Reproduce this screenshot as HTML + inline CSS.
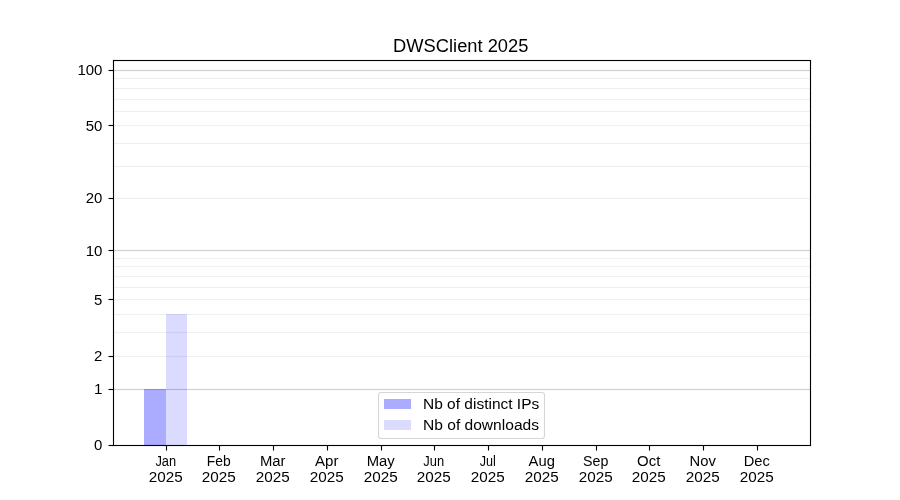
<!DOCTYPE html>
<html><head><meta charset="utf-8"><title>DWSClient 2025</title>
<style>html,body{margin:0;padding:0;background:#fff;width:900px;height:500px;overflow:hidden}svg{display:block;will-change:transform}text{font-family:"Liberation Sans",sans-serif;fill:#000}</style></head><body>
<svg width="900" height="500" viewBox="0 0 900 500">
<rect x="0" y="0" width="900" height="500" fill="#fff"/>
<g shape-rendering="crispEdges">
<rect x="113" y="77" width="697" height="3" fill="#fefefe"/><rect x="113" y="78" width="697" height="1" fill="#efefef"/>
<rect x="113" y="87" width="697" height="3" fill="#fefefe"/><rect x="113" y="88" width="697" height="1" fill="#efefef"/>
<rect x="113" y="98" width="697" height="3" fill="#fefefe"/><rect x="113" y="99" width="697" height="1" fill="#efefef"/>
<rect x="113" y="110" width="697" height="3" fill="#fefefe"/><rect x="113" y="111" width="697" height="1" fill="#efefef"/>
<rect x="113" y="124" width="697" height="3" fill="#fefefe"/><rect x="113" y="125" width="697" height="1" fill="#efefef"/>
<rect x="113" y="142" width="697" height="3" fill="#fefefe"/><rect x="113" y="143" width="697" height="1" fill="#efefef"/>
<rect x="113" y="165" width="697" height="3" fill="#fefefe"/><rect x="113" y="166" width="697" height="1" fill="#efefef"/>
<rect x="113" y="197" width="697" height="3" fill="#fefefe"/><rect x="113" y="198" width="697" height="1" fill="#efefef"/>
<rect x="113" y="257" width="697" height="3" fill="#fefefe"/><rect x="113" y="258" width="697" height="1" fill="#efefef"/>
<rect x="113" y="265" width="697" height="3" fill="#fefefe"/><rect x="113" y="266" width="697" height="1" fill="#efefef"/>
<rect x="113" y="275" width="697" height="3" fill="#fefefe"/><rect x="113" y="276" width="697" height="1" fill="#efefef"/>
<rect x="113" y="286" width="697" height="3" fill="#fefefe"/><rect x="113" y="287" width="697" height="1" fill="#efefef"/>
<rect x="113" y="298" width="697" height="3" fill="#fefefe"/><rect x="113" y="299" width="697" height="1" fill="#efefef"/>
<rect x="113" y="313" width="697" height="3" fill="#fefefe"/><rect x="113" y="314" width="697" height="1" fill="#efefef"/>
<rect x="113" y="331" width="697" height="3" fill="#fefefe"/><rect x="113" y="332" width="697" height="1" fill="#efefef"/>
<rect x="113" y="355" width="697" height="3" fill="#fefefe"/><rect x="113" y="356" width="697" height="1" fill="#efefef"/>
<rect x="113" y="69" width="697" height="3" fill="#fcfcfc"/><rect x="113" y="70" width="697" height="1" fill="#cfcfcf"/>
<rect x="113" y="249" width="697" height="3" fill="#fcfcfc"/><rect x="113" y="250" width="697" height="1" fill="#cfcfcf"/>
<rect x="113" y="388" width="697" height="3" fill="#fcfcfc"/><rect x="113" y="389" width="697" height="1" fill="#cfcfcf"/>
<rect x="144" y="389" width="22" height="56" fill="#0000ff" fill-opacity="0.33"/>
<rect x="166" y="314" width="21" height="131" fill="#0000ff" fill-opacity="0.14"/>
<rect x="112" y="59" width="700" height="3" fill="#000" fill-opacity="0.055"/>
<rect x="112" y="444" width="700" height="3" fill="#000" fill-opacity="0.055"/>
<rect x="112" y="61" width="3" height="383" fill="#000" fill-opacity="0.055"/>
<rect x="809" y="61" width="3" height="383" fill="#000" fill-opacity="0.055"/>
<rect x="113" y="60" width="698" height="1" fill="#000"/>
<rect x="113" y="445" width="698" height="1" fill="#000"/>
<rect x="113" y="60" width="1" height="386" fill="#000"/>
<rect x="810" y="60" width="1" height="386" fill="#000"/>
<rect x="165" y="446" width="3" height="4" fill="#000" fill-opacity="0.055"/><rect x="166" y="446" width="1" height="4" fill="#000"/><rect x="166" y="450" width="1" height="1" fill="#7f7f7f"/>
<rect x="218" y="446" width="3" height="4" fill="#000" fill-opacity="0.055"/><rect x="219" y="446" width="1" height="4" fill="#000"/><rect x="219" y="450" width="1" height="1" fill="#7f7f7f"/>
<rect x="272" y="446" width="3" height="4" fill="#000" fill-opacity="0.055"/><rect x="273" y="446" width="1" height="4" fill="#000"/><rect x="273" y="450" width="1" height="1" fill="#7f7f7f"/>
<rect x="326" y="446" width="3" height="4" fill="#000" fill-opacity="0.055"/><rect x="327" y="446" width="1" height="4" fill="#000"/><rect x="327" y="450" width="1" height="1" fill="#7f7f7f"/>
<rect x="380" y="446" width="3" height="4" fill="#000" fill-opacity="0.055"/><rect x="381" y="446" width="1" height="4" fill="#000"/><rect x="381" y="450" width="1" height="1" fill="#7f7f7f"/>
<rect x="433" y="446" width="3" height="4" fill="#000" fill-opacity="0.055"/><rect x="434" y="446" width="1" height="4" fill="#000"/><rect x="434" y="450" width="1" height="1" fill="#7f7f7f"/>
<rect x="487" y="446" width="3" height="4" fill="#000" fill-opacity="0.055"/><rect x="488" y="446" width="1" height="4" fill="#000"/><rect x="488" y="450" width="1" height="1" fill="#7f7f7f"/>
<rect x="541" y="446" width="3" height="4" fill="#000" fill-opacity="0.055"/><rect x="542" y="446" width="1" height="4" fill="#000"/><rect x="542" y="450" width="1" height="1" fill="#7f7f7f"/>
<rect x="595" y="446" width="3" height="4" fill="#000" fill-opacity="0.055"/><rect x="596" y="446" width="1" height="4" fill="#000"/><rect x="596" y="450" width="1" height="1" fill="#7f7f7f"/>
<rect x="648" y="446" width="3" height="4" fill="#000" fill-opacity="0.055"/><rect x="649" y="446" width="1" height="4" fill="#000"/><rect x="649" y="450" width="1" height="1" fill="#7f7f7f"/>
<rect x="702" y="446" width="3" height="4" fill="#000" fill-opacity="0.055"/><rect x="703" y="446" width="1" height="4" fill="#000"/><rect x="703" y="450" width="1" height="1" fill="#7f7f7f"/>
<rect x="756" y="446" width="3" height="4" fill="#000" fill-opacity="0.055"/><rect x="757" y="446" width="1" height="4" fill="#000"/><rect x="757" y="450" width="1" height="1" fill="#7f7f7f"/>
<rect x="109" y="69" width="4" height="3" fill="#000" fill-opacity="0.055"/><rect x="109" y="70" width="4" height="1" fill="#000"/><rect x="108" y="70" width="1" height="1" fill="#7f7f7f"/>
<rect x="109" y="124" width="4" height="3" fill="#000" fill-opacity="0.055"/><rect x="109" y="125" width="4" height="1" fill="#000"/><rect x="108" y="125" width="1" height="1" fill="#7f7f7f"/>
<rect x="109" y="197" width="4" height="3" fill="#000" fill-opacity="0.055"/><rect x="109" y="198" width="4" height="1" fill="#000"/><rect x="108" y="198" width="1" height="1" fill="#7f7f7f"/>
<rect x="109" y="249" width="4" height="3" fill="#000" fill-opacity="0.055"/><rect x="109" y="250" width="4" height="1" fill="#000"/><rect x="108" y="250" width="1" height="1" fill="#7f7f7f"/>
<rect x="109" y="298" width="4" height="3" fill="#000" fill-opacity="0.055"/><rect x="109" y="299" width="4" height="1" fill="#000"/><rect x="108" y="299" width="1" height="1" fill="#7f7f7f"/>
<rect x="109" y="355" width="4" height="3" fill="#000" fill-opacity="0.055"/><rect x="109" y="356" width="4" height="1" fill="#000"/><rect x="108" y="356" width="1" height="1" fill="#7f7f7f"/>
<rect x="109" y="388" width="4" height="3" fill="#000" fill-opacity="0.055"/><rect x="109" y="389" width="4" height="1" fill="#000"/><rect x="108" y="389" width="1" height="1" fill="#7f7f7f"/>
<rect x="109" y="444" width="4" height="3" fill="#000" fill-opacity="0.055"/><rect x="109" y="445" width="4" height="1" fill="#000"/><rect x="108" y="445" width="1" height="1" fill="#7f7f7f"/>
</g>
<rect x="378.5" y="392.5" width="166" height="46" rx="2.8" ry="2.8" fill="#fff" fill-opacity="0.8" stroke="#cccccc" stroke-opacity="0.8" stroke-width="1.11"/>
<g shape-rendering="crispEdges">
<rect x="384" y="399" width="27" height="10" fill="#0000ff" fill-opacity="0.33"/>
<rect x="384" y="420" width="27" height="10" fill="#0000ff" fill-opacity="0.14"/>
</g>
<g font-size="13.89px">
<text x="102.45" y="75" text-anchor="end" textLength="25.056" lengthAdjust="spacingAndGlyphs">100</text>
<text x="102.45" y="131" text-anchor="end" textLength="16.625" lengthAdjust="spacingAndGlyphs">50</text>
<text x="102.45" y="203" text-anchor="end" textLength="16.625" lengthAdjust="spacingAndGlyphs">20</text>
<text x="102.45" y="256" text-anchor="end" textLength="16.744" lengthAdjust="spacingAndGlyphs">10</text>
<text x="102.45" y="305" text-anchor="end" textLength="8.312" lengthAdjust="spacingAndGlyphs">5</text>
<text x="102.45" y="361" text-anchor="end" textLength="8.312" lengthAdjust="spacingAndGlyphs">2</text>
<text x="102.45" y="394" text-anchor="end" textLength="8.431" lengthAdjust="spacingAndGlyphs">1</text>
<text x="102.45" y="450" text-anchor="end" textLength="8.312" lengthAdjust="spacingAndGlyphs">0</text>
<text x="165.75" y="466" text-anchor="middle" textLength="20.734" lengthAdjust="spacingAndGlyphs">Jan</text>
<text x="165.75" y="482" text-anchor="middle" textLength="33.950" lengthAdjust="spacingAndGlyphs">2025</text>
<text x="218.75" y="466" text-anchor="middle" textLength="23.886" lengthAdjust="spacingAndGlyphs">Feb</text>
<text x="218.75" y="482" text-anchor="middle" textLength="33.950" lengthAdjust="spacingAndGlyphs">2025</text>
<text x="272.75" y="466" text-anchor="middle" textLength="25.584" lengthAdjust="spacingAndGlyphs">Mar</text>
<text x="272.75" y="482" text-anchor="middle" textLength="33.950" lengthAdjust="spacingAndGlyphs">2025</text>
<text x="326.75" y="466" text-anchor="middle" textLength="23.401" lengthAdjust="spacingAndGlyphs">Apr</text>
<text x="326.75" y="482" text-anchor="middle" textLength="33.950" lengthAdjust="spacingAndGlyphs">2025</text>
<text x="380.75" y="466" text-anchor="middle" textLength="28.009" lengthAdjust="spacingAndGlyphs">May</text>
<text x="380.75" y="482" text-anchor="middle" textLength="33.950" lengthAdjust="spacingAndGlyphs">2025</text>
<text x="433.75" y="466" text-anchor="middle" textLength="20.855" lengthAdjust="spacingAndGlyphs">Jun</text>
<text x="433.75" y="482" text-anchor="middle" textLength="33.950" lengthAdjust="spacingAndGlyphs">2025</text>
<text x="487.75" y="466" text-anchor="middle" textLength="16.126" lengthAdjust="spacingAndGlyphs">Jul</text>
<text x="487.75" y="482" text-anchor="middle" textLength="33.950" lengthAdjust="spacingAndGlyphs">2025</text>
<text x="541.75" y="466" text-anchor="middle" textLength="26.311" lengthAdjust="spacingAndGlyphs">Aug</text>
<text x="541.75" y="482" text-anchor="middle" textLength="33.950" lengthAdjust="spacingAndGlyphs">2025</text>
<text x="595.75" y="466" text-anchor="middle" textLength="25.341" lengthAdjust="spacingAndGlyphs">Sep</text>
<text x="595.75" y="482" text-anchor="middle" textLength="33.950" lengthAdjust="spacingAndGlyphs">2025</text>
<text x="648.75" y="466" text-anchor="middle" textLength="23.280" lengthAdjust="spacingAndGlyphs">Oct</text>
<text x="648.75" y="482" text-anchor="middle" textLength="33.950" lengthAdjust="spacingAndGlyphs">2025</text>
<text x="702.75" y="466" text-anchor="middle" textLength="26.311" lengthAdjust="spacingAndGlyphs">Nov</text>
<text x="702.75" y="482" text-anchor="middle" textLength="33.950" lengthAdjust="spacingAndGlyphs">2025</text>
<text x="756.75" y="466" text-anchor="middle" textLength="26.069" lengthAdjust="spacingAndGlyphs">Dec</text>
<text x="756.75" y="482" text-anchor="middle" textLength="33.950" lengthAdjust="spacingAndGlyphs">2025</text>
<text x="423" y="409" textLength="116.250" lengthAdjust="spacingAndGlyphs">Nb of distinct IPs</text>
<text x="423" y="430" textLength="116.000" lengthAdjust="spacingAndGlyphs">Nb of downloads</text>
</g>
<text x="460.75" y="52" font-size="17.5px" text-anchor="middle" textLength="135.375" lengthAdjust="spacingAndGlyphs">DWSClient 2025</text>
</svg></body></html>
